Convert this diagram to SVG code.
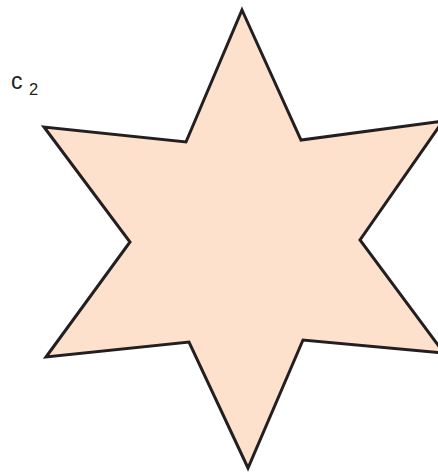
<svg xmlns="http://www.w3.org/2000/svg" width="438" height="472" viewBox="0 0 438 472">
<style>
.star{fill:#fde1cd;stroke:#231f20;stroke-width:3;stroke-linejoin:miter;stroke-miterlimit:20}
.lbl{font-family:"Liberation Sans",Arial,sans-serif;fill:#231f20}
</style>
<g id="star">
<polygon class="star" points="242,10 301,140 443,121 360,240 444,353 303,340 248,468 189,342 46,357 130,242 44,127 186,142"/>
</g>
<g id="label">
<text class="lbl" x="11" y="88.5" font-size="23">c</text>
<text class="lbl" x="29" y="95" font-size="16.5">2</text>
</g>
<g id="connectors"></g>
</svg>
